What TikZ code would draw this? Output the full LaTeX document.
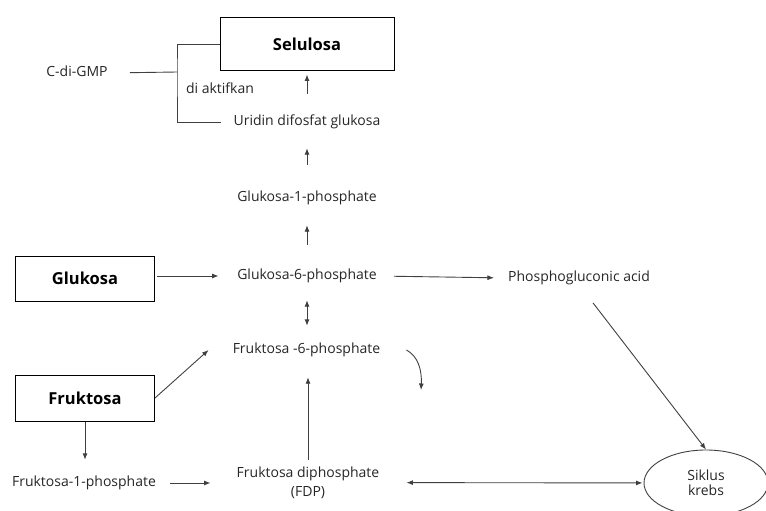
\documentclass[tikz,border=0pt]{standalone}
\usepackage{fontspec}
\setmainfont{Open Sans}
\usetikzlibrary{arrows,arrows.meta,positioning,shapes}

\begin{document}
\begin{tikzpicture}[x=1pt,y=-1pt,>={Latex[length=6.5pt,width=5pt]}]
\fontsize{14}{16}\selectfont
\tikzstyle{box} = [draw, line width=1pt, font=\fontsize{16.5}{19}\selectfont\bfseries]
\tikzstyle{lbl} = [inner sep=0pt, text height=10pt, text depth=3pt, text=black!85]
\tikzstyle{line} = [draw=black!75, line width=0.9pt]
\useasboundingbox (0,0) rectangle (766,511);
\draw
(307,44.5) node [box, minimum width=174, minimum height=53] (sel) {Selulosa}
(85,278.5) node [box, minimum width=139, minimum height=45] (glu) {Glukosa}
(85,398) node [box, minimum width=139, minimum height=46] (fru) {Fruktosa}
(706,483) node [ellipse, draw=black!75, line width=0.9pt, minimum width=124, minimum height=66, align=center, text=black!85, font=\fontsize{14}{15}\selectfont] (krebs) {Siklus\\krebs};
\node [lbl] (cdg) at (77,73) {C-di-GMP};
\node [lbl] (akt) at (220,90) {di aktifkan};
\node [lbl] (udp) at (307,122) {Uridin difosfat glukosa};
\node [lbl] (g1p) at (307,198) {Glukosa-1-phosphate};
\node [lbl] (g6p) at (307,276) {Glukosa-6-phosphate};
\node [lbl] (pga) at (579,278) {Phosphogluconic acid};
\node [lbl] (f6p) at (306.5,350) {Fruktosa -6-phosphate};
\node [lbl] (f1p) at (84,483) {Fruktosa-1-phosphate};
\node [inner sep=0pt, align=center, text=black!85, font=\fontsize{14}{19}\selectfont] (fdp) at (308,482.5) {Fruktosa diphosphate\\(FDP)};
\coordinate (brk) at (177,72);
\coordinate (cyc) at (421,390);
% C-di-GMP bracket
\draw[line, shorten <=22] (cdg.east) -- (brk);
\draw[line, shorten >=12] (sel.west) -| (brk) |- (udp.west);
% main path up to Selulosa
\draw[line, ->, shorten <=21.5, shorten >=3] (udp) -- (sel);
\draw[line, ->, shorten <=26.5, shorten >=19.5] (g1p) -- (udp);
\draw[line, ->, shorten <=24.5, shorten >=20.5] (g6p) -- (g1p);
\draw[line, ->, shorten <=2, shorten >=18.5] (glu.east |- g6p.west) -- (g6p.west);
\draw[line, ->, shorten <=17, shorten >=14] (g6p.east) -- (pga.west);
\draw[line, <->, shorten <=17.5, shorten >=17.5] (g6p.south) -- (g6p.south |- f6p.north);
\draw[line, ->] (fru.east) -- ([xshift=-24]f6p.west);
\draw[line, ->] ([xshift=26]f6p.east) .. controls (418,356) and (422,370) .. (cyc);
% Fruktosa branch
\draw[line, ->, shorten <=6, shorten >=20.5] (fdp.north) -- (fdp.north |- f6p.south);
\draw[line, ->, shorten >=16.5] (fru.south) -- (fru.south |- f1p.north);
\draw[line, ->, shorten <=14, shorten >=26] (f1p.east) -- (f1p.east -| fdp.west);
\draw[line, <->, shorten <=27, shorten >=1] (fdp) -- (krebs);
\draw[line, ->, shorten <=23] (pga.south) -- (krebs.north);
\end{tikzpicture}
\end{document}
